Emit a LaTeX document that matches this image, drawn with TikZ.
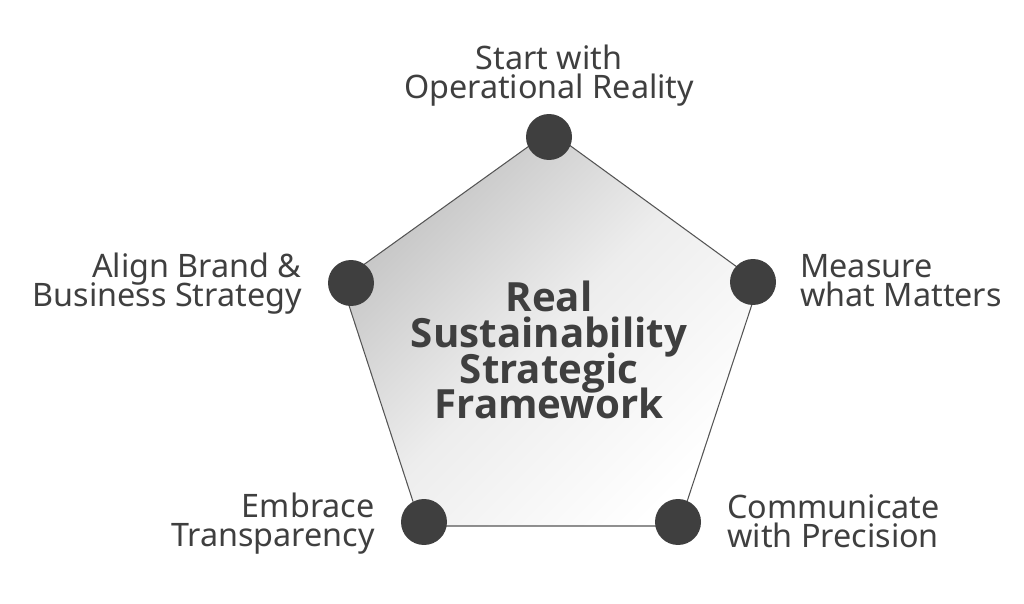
\documentclass[tikz,border=0pt]{standalone}
\usepackage{fontspec}
\setmainfont{Noto Sans}
\newfontfamily\titlefont{Open Sans}
\begin{document}
\begin{tikzpicture}[x=0.02cm,y=0.02cm]
\tikzstyle{every node}+=[inner sep=0pt]
\tikzset{
  dot/.style={circle,fill=dotgray,minimum size=0.92cm},
  lab/.style={text=dotgray,font=\fontsize{18.4}{16.4}\selectfont\lineskiplimit -100pt\relax},
  title/.style={text=dotgray,font=\titlefont\fontsize{22.9}{20.4}\selectfont\bfseries\lineskiplimit -100pt\relax,align=center},
}
\definecolor{dotgray}{HTML}{3F3F3F}
\definecolor{edgegray}{HTML}{555555}
\useasboundingbox (0,0) rectangle (1024,-604);
% corners of the pentagon
\coordinate (ctop) at (550,-131);
\coordinate (cright) at (759,-283);
\coordinate (cbr) at (679,-526);
\coordinate (cbl) at (421,-526);
\coordinate (cleft) at (341,-281);
\shade [draw=edgegray,line width=0.6pt,top color=black!24,bottom color=white,middle color=black!7,shading angle=45]
  (ctop) -- (cright) -- (cbr) -- (cbl) -- (cleft) -- cycle;
% dots
\node [dot] (dtop) at (549,-137) {};
\node [dot] (dright) at (753,-282) {};
\node [dot] (dbr) at (678,-522) {};
\node [dot] (dbl) at (424,-522) {};
\node [dot] (dleft) at (351,-283) {};
% labels
\node [lab,align=center] (ltop) at (549,-76) {Start with\\Operational Reality};
\node [lab,align=left,anchor=west] (lright) at (800,-281) {Measure\\what Matters};
\node [lab,align=left,anchor=west] (lbr) at (727,-521) {Communicate\\with Precision};
\node [lab,align=right,anchor=east] (lbl) at (375,-524) {Embrace\\Transparency};
\node [lab,align=right,anchor=east] (lleft) at (302,-284) {Align Brand \&\\Business Strategy};
\node [title] (mid) at (549,-350) {Real\\Sustainability\\Strategic\\Framework};
\end{tikzpicture}
\end{document}
